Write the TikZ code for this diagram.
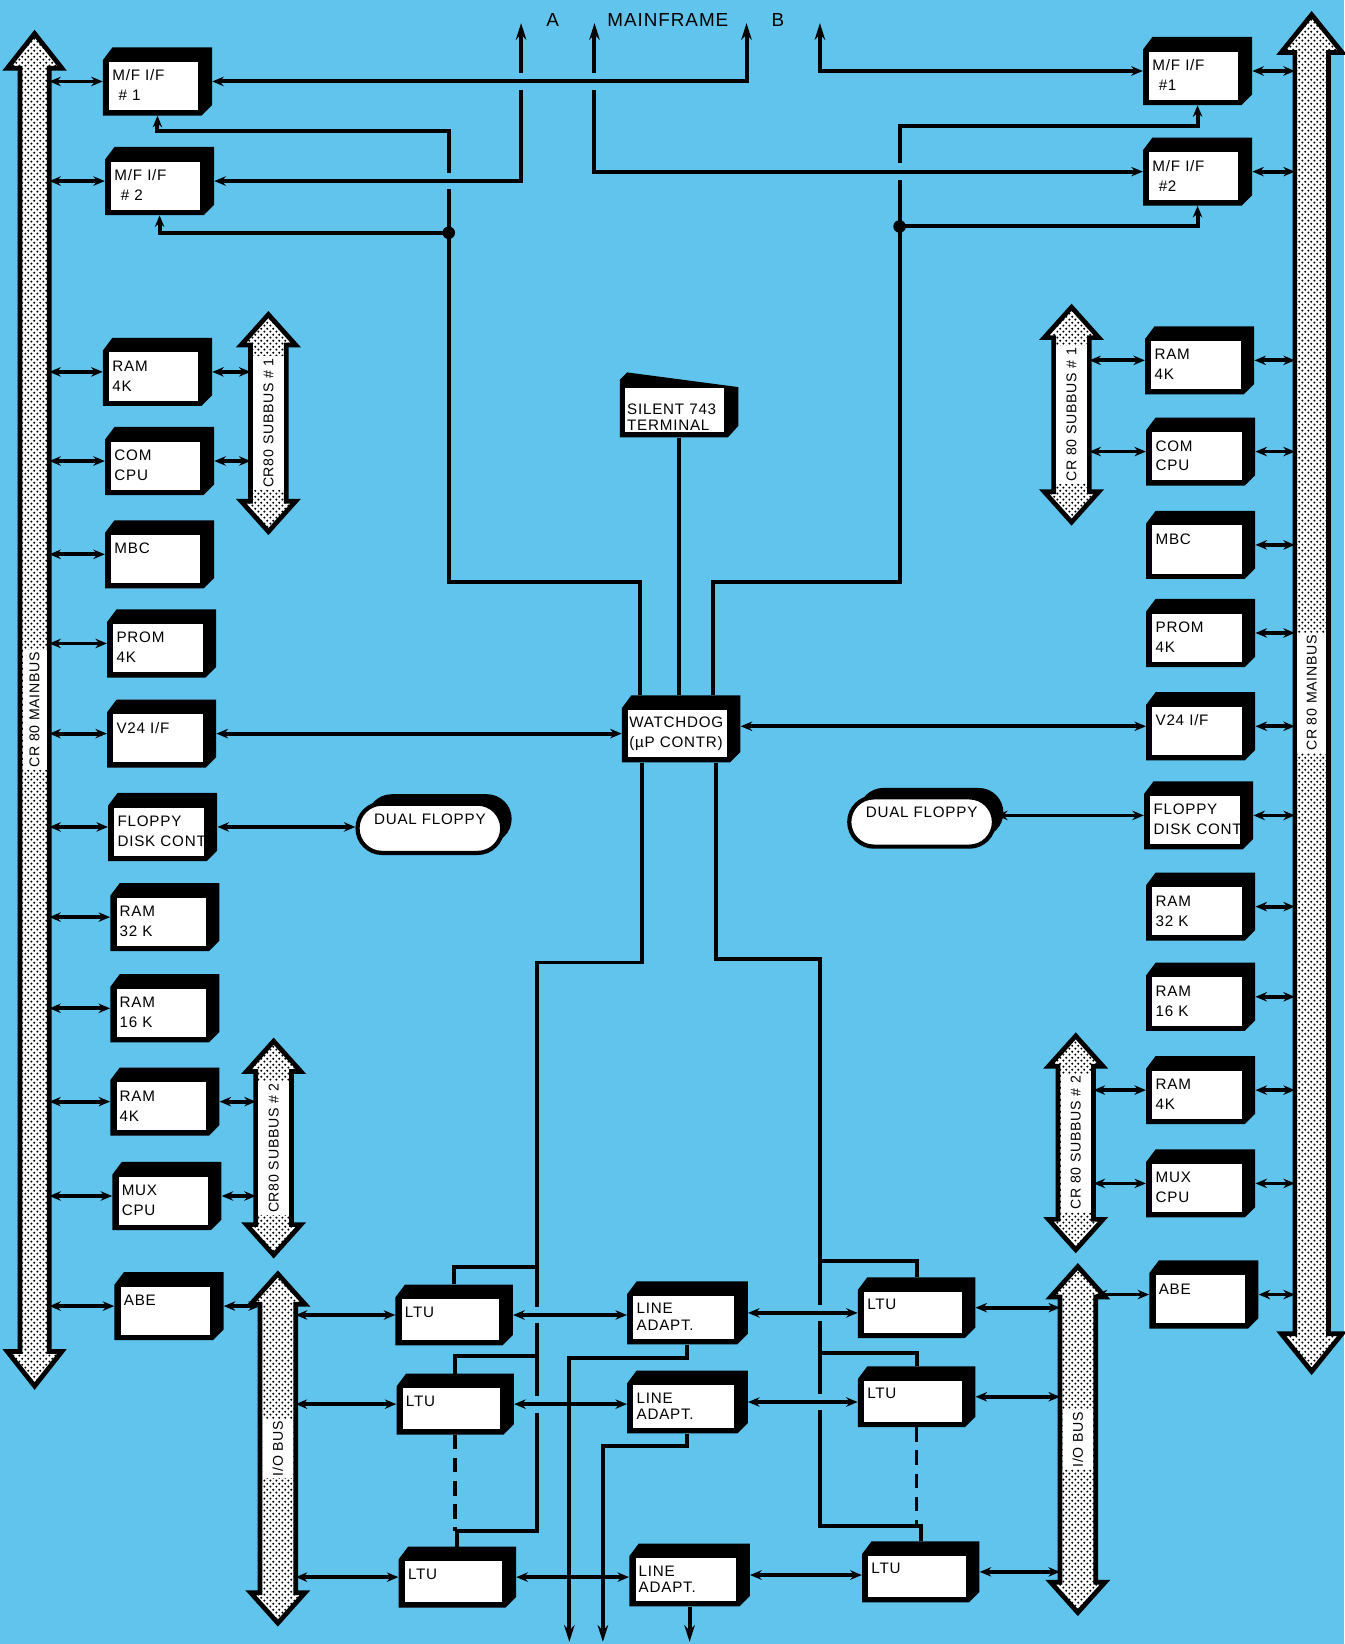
\documentclass[tikz,border=0pt]{standalone}
\usepackage{fontspec}
\setmainfont{Liberation Sans}
\newfontfamily\unitfont[LetterSpace=5]{Liberation Sans}
\usetikzlibrary{calc, arrows.meta, patterns, shapes.misc, shadows}
\definecolor{panel}{HTML}{60C4EC}

\pgfdeclarepatternformonly{busdots}{\pgfpointorigin}{\pgfpoint{6pt}{6pt}}{\pgfpoint{6pt}{6pt}}{%
  \pgfpathcircle{\pgfpoint{1.5pt}{1.5pt}}{1.2pt}%
  \pgfpathcircle{\pgfpoint{4.5pt}{4.5pt}}{1.2pt}%
  \pgfusepath{fill}}

% bus: name, x, top tip, bottom tip, half shaft, half head, head length, label
\newcommand{\crbus}[8]{%
  \filldraw[busbody] (#2,#3) -- (#2+#6,#3+#7) -- (#2+#5,#3+#7) -- (#2+#5,#4-#7)
    -- (#2+#6,#4-#7) -- (#2,#4) -- (#2-#6,#4-#7) -- (#2-#5,#4-#7)
    -- (#2-#5,#3+#7) -- (#2-#6,#3+#7) -- cycle;
  \node[buslabel, minimum height=2*#5-5] (#1) at (#2,{(#3+#4)/2}) {#8};
  \coordinate (#1-w) at (#2-#5,#3);
  \coordinate (#1-e) at (#2+#5,#3);
}

\begin{document}
\begin{tikzpicture}[x=1pt, y=-1pt,
    >={Stealth[length=11pt,width=9pt]},
    unitbox/.style={fill=panel, inner xsep=9pt, inner ysep=0pt, text width=86pt,
      text height=32pt, text depth=33pt, align=left, anchor=north west,
      font=\unitfont\fontsize{14.5}{19}\selectfont,
      path picture={
        \fill[black] ([yshift=-12pt]path picture bounding box.north west)
          -- ([xshift=9pt]path picture bounding box.north west)
          -- (path picture bounding box.north east)
          -- ([yshift=10pt]path picture bounding box.south east)
          -- ([xshift=-10pt]path picture bounding box.south east)
          -- (path picture bounding box.south west) -- cycle;
        \fill[white] ([xshift=6pt,yshift=5pt]path picture bounding box.south west)
          rectangle ([xshift=-13pt,yshift=-14pt]path picture bounding box.north east);}},
    ltubox/.style={unitbox, text width=94pt, text height=31pt, text depth=27pt},
    ladbox/.style={unitbox, text width=97pt, text height=31pt, text depth=29pt,
      font=\unitfont\fontsize{14.5}{16}\selectfont},
    wdbox/.style={unitbox, inner xsep=7pt, text width=99pt, text height=31pt, text depth=33pt},
    termbox/.style={fill=panel, inner xsep=7pt, inner ysep=0pt, text width=99pt,
      text height=40pt, text depth=22pt, align=left, anchor=north west,
      font=\unitfont\fontsize{14.5}{15}\selectfont,
      path picture={
        \fill[black] ([yshift=-7pt]path picture bounding box.north west)
          -- ([xshift=7pt]path picture bounding box.north west)
          -- ([yshift=-14pt]path picture bounding box.north east)
          -- ([yshift=11pt]path picture bounding box.south east)
          -- ([xshift=-10pt]path picture bounding box.south east)
          -- (path picture bounding box.south west) -- cycle;
        \fill[white] ([xshift=5pt,yshift=5pt]path picture bounding box.south west)
          rectangle ([xshift=-14pt,yshift=-15pt]path picture bounding box.north east);}},
    floppybox/.style={rounded rectangle, draw=black, line width=4pt, fill=white,
      minimum width=138pt, minimum height=47pt, inner sep=0pt,
      text height=14pt, text depth=22pt, font=\unitfont\fontsize{14.5}{16}\selectfont,
      drop shadow={shadow xshift=9pt, shadow yshift=9pt, fill=black, opacity=1}},
    busbody/.style={draw=black, line width=4.5pt, fill=white, postaction={pattern=busdots}},
    buslabel/.style={rotate=90, fill=white, inner xsep=2pt, inner ysep=0pt,
      font=\unitfont\fontsize{13.5}{15}\selectfont},
    toplabel/.style={font=\unitfont\fontsize{18}{20}\selectfont},
    link/.style={<->, line width=3.6pt},
    ctl/.style={line width=3.8pt},
    feedin/.style={<-, line width=3.8pt},
    uptip/.style={-{Stealth[length=16pt,width=10pt]}, line width=3.8pt},
    twotip/.style={<-{Stealth[length=16pt,width=10pt]}, line width=3.8pt},
    dashline/.style={line width=3.4pt, dash pattern=on 14pt off 8pt}
  ]
  \useasboundingbox (0,0) rectangle (1282,1568);
  \fill[panel] (0,0) rectangle (1282,1568);

  % --- buses ---
  \crbus{lmb}{33}{32}{1322}{14}{26}{33}{CR 80 MAINBUS}
  \crbus{rmb}{1251}{14}{1308}{16}{29}{36}{CR 80 MAINBUS}
  \crbus{lsb1}{256}{300}{507}{17}{26}{29}{CR80 SUBBUS \# 1}
  \crbus{lsb2}{261}{993}{1197}{17}{26}{29}{CR80 SUBBUS \# 2}
  \crbus{lio}{265}{1215}{1548}{17}{26}{29}{I/O BUS}
  \crbus{rsb1}{1022}{293}{498}{17}{26}{29}{CR 80 SUBBUS \# 1}
  \crbus{rsb2}{1026}{988}{1192}{17}{26}{29}{CR 80 SUBBUS \# 2}
  \crbus{rio}{1028}{1208}{1538}{17}{26}{29}{I/O BUS}

  % --- left column ---
  \node[unitbox] (lmf1) at (98,45) {M/F I/F\\\hspace*{6pt}\# 1};
  \node[unitbox] (lmf2) at (100,140) {M/F I/F\\\hspace*{6pt}\# 2};
  \node[unitbox] (lram1) at (98,322) {RAM\\4K};
  \node[unitbox] (lcom) at (100,407) {COM\\CPU};
  \node[unitbox] (lmbc) at (100,496) {MBC};
  \node[unitbox] (lprom) at (102,581) {PROM\\4K};
  \node[unitbox] (lv24) at (102,667) {V24 I/F};
  \node[unitbox] (lfdc) at (103,756) {FLOPPY\\\mbox{DISK CONT}};
  \node[unitbox] (lram32) at (105,842) {RAM\\32 K};
  \node[unitbox] (lram16) at (105,929) {RAM\\16 K};
  \node[unitbox] (lram4) at (105,1018) {RAM\\4K};
  \node[unitbox] (lmux) at (107,1108) {MUX\\CPU};
  \node[unitbox] (labe) at (109,1213) {ABE};

  % --- right column ---
  \node[unitbox] (rmf1) at (1090,35) {M/F I/F\\\hspace*{6pt}\#1};
  \node[unitbox] (rmf2) at (1090,131) {M/F I/F\\\hspace*{6pt}\#2};
  \node[unitbox] (rram1) at (1092,311) {RAM\\4K};
  \node[unitbox] (rcom) at (1093,398) {COM\\CPU};
  \node[unitbox] (rmbc) at (1093,487) {MBC};
  \node[unitbox] (rprom) at (1093,571) {PROM\\4K};
  \node[unitbox] (rv24) at (1093,660) {V24 I/F};
  \node[unitbox] (rfdc) at (1091,745) {FLOPPY\\\mbox{DISK CONT}};
  \node[unitbox] (rram32) at (1093,832) {RAM\\32 K};
  \node[unitbox] (rram16) at (1093,918) {RAM\\16 K};
  \node[unitbox] (rram4) at (1093,1007) {RAM\\4K};
  \node[unitbox] (rmux) at (1093,1096) {MUX\\CPU};
  \node[unitbox] (rabe) at (1096,1202) {ABE};

  % --- centre ---
  \node[termbox] (term) at (591,355) {SILENT 743\\TERMINAL};
  \node[wdbox] (wd) at (593,663) {WATCHDOG\\(µP CONTR)};
  \node[floppybox] (lfl) at (410,790) {DUAL FLOPPY};
  \node[floppybox] (rfl) at (879,784) {DUAL FLOPPY};

  % --- line units ---
  \node[ltubox] (ltu1) at (377,1225) {LTU};
  \node[ltubox] (ltu2) at (378,1310) {LTU};
  \node[ltubox] (ltu3) at (380,1475) {LTU};
  \node[ladbox] (la1) at (598,1222) {LINE\\ADAPT.};
  \node[ladbox] (la2) at (598,1307) {LINE\\ADAPT.};
  \node[ladbox] (la3) at (600,1472) {LINE\\ADAPT.};
  \node[ltubox] (rtu1) at (818,1218) {LTU};
  \node[ltubox] (rtu2) at (818,1303) {LTU};
  \node[ltubox] (rtu3) at (822,1470) {LTU};

  % --- mainframe channels ---
  \node[toplabel] (lblA) at (527,19) {A};
  \node[toplabel] (lblmf) at (637,19) {MAINFRAME};
  \node[toplabel] (lblB) at (742,19) {B};
  \coordinate (tA1) at (497,22);
  \coordinate (tA2) at (567,22);
  \coordinate (tB1) at (712,22);
  \coordinate (tB2) at (782,22);
  \coordinate (xA1) at (tA1 |- lmf1.east);
  \coordinate (xA2) at (tA2 |- lmf1.east);
  \draw[twotip] (lmf1.east) -| (tB1);
  \draw[feedin] (lmf2.east) -| ($(xA1)+(0,8)$);
  \draw[uptip] ($(xA1)+(0,-8)$) -- (tA1);
  \draw[feedin] (rmf2.west) -| ($(xA2)+(0,8)$);
  \draw[uptip] ($(xA2)+(0,-8)$) -- (tA2);
  \draw[twotip] (rmf1.west) -| (tB2);

  % --- watchdog control, upper ---
  \coordinate (wdl) at ($(wd.north west)!0.15!(wd.north east)$);
  \coordinate (wdr) at ($(wd.north west)!0.77!(wd.north east)$);
  \coordinate (lturn) at (428,555);
  \coordinate (rturn) at (858,555);
  \coordinate (ltop) at (428,125);
  \coordinate (rtop) at (858,120);
  \coordinate (ldot) at (428,222);
  \coordinate (rdot) at (858,216);
  \coordinate (xL) at (lturn |- lmf2.east);
  \coordinate (xR) at (rturn |- rmf2.west);
  \draw[ctl] (wdl) |- (lturn) -- ($(xL)+(0,8)$);
  \draw[ctl,->] ($(xL)+(0,-8)$) -- (ltop) -| (lmf1.south);
  \draw[ctl,->] (ldot) -| (lmf2.south);
  \fill (ldot) circle (6);
  \draw[ctl] (wdr) |- (rturn) -- ($(xR)+(0,8)$);
  \draw[ctl,->] ($(xR)+(0,-8)$) -- (rtop) -| (rmf1.south);
  \draw[ctl,->] (rdot) -| (rmf2.south);
  \fill (rdot) circle (6);
  \draw[ctl] (term.south) -- (term.south |- wd.north);

  % --- watchdog control, lower ---
  \coordinate (wdbl) at ($(wd.south west)!0.17!(wd.south east)$);
  \coordinate (wdbr) at ($(wd.south west)!0.79!(wd.south east)$);
  \coordinate (lspine) at (512,918);
  \coordinate (rspine) at (782,915);
  \coordinate (lbr1) at (512,1208);
  \coordinate (lbr2) at (512,1293);
  \coordinate (lbr3) at (512,1460);
  \coordinate (rbr1) at (782,1203);
  \coordinate (rbr2) at (782,1290);
  \coordinate (rbr3) at (782,1455);
  \coordinate (xl1) at (lspine |- ltu1.east);
  \coordinate (xl2) at (lspine |- ltu2.east);
  \coordinate (xr1) at (rspine |- la1.east);
  \coordinate (xr2) at (rspine |- la2.east);
  \draw[ctl] (wdbl) |- (lspine) -- ($(xl1)+(0,-8)$);
  \draw[ctl] ($(xl1)+(0,8)$) -- ($(xl2)+(0,-8)$);
  \draw[ctl] ($(xl2)+(0,8)$) -- (lbr3) -| (ltu3.north);
  \draw[ctl] (lbr1) -| (ltu1.north);
  \draw[ctl] (lbr2) -| (ltu2.north);
  \draw[dashline] (ltu2.south) -- (ltu2.south |- lbr3);
  \draw[ctl] (wdbr) |- (rspine) -- ($(xr1)+(0,-8)$);
  \draw[ctl] ($(xr1)+(0,8)$) -- ($(xr2)+(0,-8)$);
  \draw[ctl] ($(xr2)+(0,8)$) -- (rbr3) -| (rtu3.north);
  \draw[ctl] (rbr1) -| (rtu1.north);
  \draw[ctl] (rbr2) -| (rtu2.north);
  \draw[dashline] (rtu2.south) -- (rtu2.south |- rbr3);

  % --- line outputs ---
  \coordinate (out1) at (543,1566);
  \coordinate (out2) at (575,1566);
  \draw[uptip] (la1.south) -- ++(0,13) -| (out1);
  \draw[uptip] (la2.south) -- ++(0,12) -| (out2);
  \draw[uptip] (la3.south) -- (la3.south |- out1);

  % --- bus connections ---
  \foreach \b in {lmf1,lmf2,lram1,lcom,lmbc,lprom,lv24,lfdc,lram32,lram16,lram4,lmux,labe}
    \draw[link] (lmb-e |- \b.west) -- (\b.west);
  \foreach \b in {rmf1,rmf2,rram1,rcom,rmbc,rprom,rv24,rfdc,rram32,rram16,rram4,rmux,rabe}
    \draw[link] (\b.east) -- (\b.east -| rmb-w);
  \foreach \b/\s in {lram1/lsb1,lcom/lsb1,lram4/lsb2,lmux/lsb2,labe/lio}
    \draw[link] (\b.east) -- (\b.east -| \s-w);
  \foreach \b/\s in {rram1/rsb1,rcom/rsb1,rram4/rsb2,rmux/rsb2,rabe/rio}
    \draw[link] (\s-e |- \b.west) -- (\b.west);
  \foreach \b in {ltu1,ltu2,ltu3}
    \draw[link] (lio-e |- \b.west) -- (\b.west);
  \foreach \b in {rtu1,rtu2,rtu3}
    \draw[link] (\b.east) -- (\b.east -| rio-w);
  \foreach \t/\a in {ltu1/la1,ltu2/la2,ltu3/la3}
    \draw[link] (\t.east) -- (\t.east -| \a.west);
  \foreach \a/\t in {la1/rtu1,la2/rtu2,la3/rtu3}
    \draw[link] (\a.east) -- (\a.east -| \t.west);

  % --- watchdog and floppy links ---
  \draw[link] (lv24.east) -- (lv24.east -| wd.west);
  \draw[link] (rv24.west) -- (rv24.west -| wd.east);
  \draw[link] (lfdc.east) -- (lfdc.east -| lfl.west);
  \draw[link] (rfdc.west) -- (rfdc.west -| rfl.east);
\end{tikzpicture}
\end{document}
